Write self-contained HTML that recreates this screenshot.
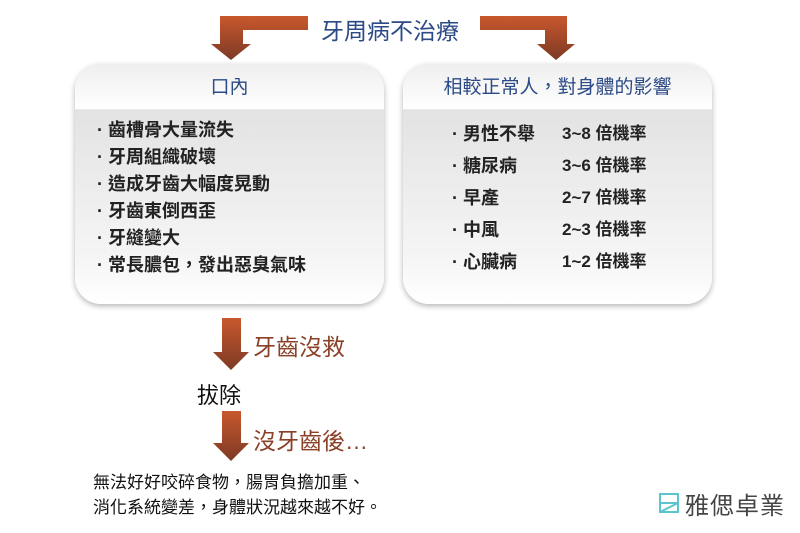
<!DOCTYPE html>
<html><head><meta charset="utf-8"><style>
body{margin:0;width:800px;height:533px;background:#fff;position:relative;overflow:hidden;font-family:"Liberation Sans","Noto Sans CJK TC",sans-serif}
.a{position:absolute;white-space:nowrap}
.box{position:absolute;top:64px;height:240px;width:309px;border-radius:26px;background:linear-gradient(#fff 0,#fff 44px,#e3e3e3 46px,#f6f6f6 200px,#fff 240px);box-shadow:0 2px 6px rgba(0,0,0,.3)}
.hd{position:absolute;top:0;left:0;right:0;height:45px;border-radius:26px 26px 0 0;background:linear-gradient(#eee,#fff);text-align:center;line-height:48px;color:#2c4a86;font-size:19px}
.li{position:absolute;font-size:18px;font-weight:bold;color:#222}
.dk{color:#8a4128;font-size:23px}
</style></head><body>
<svg class="a" style="left:0;top:0" width="800" height="533">
<defs><linearGradient id="g" x1="0" y1="0" x2="0" y2="1"><stop offset="0" stop-color="#c8582d"/><stop offset="1" stop-color="#7d3a25"/></linearGradient></defs>
<path d="M308 16V30H243V44H251L231 60L211 44H220V16Z" fill="url(#g)"/>
<path d="M480 16V30H545V44H537L556 60L575 44H567V16Z" fill="url(#g)"/>
<path d="M222 318H241V352H249L231 370L213 352H222Z" fill="url(#g)"/>
<path d="M222 411H241V443H249L231 461L213 443H222Z" fill="url(#g)"/>
</svg>
<div class="a" style="left:321px;top:12px;font-size:23px;color:#2c4a86">牙周病不治療</div>
<div class="box" style="left:75px"><div class="hd">口內</div></div>
<div class="box" style="left:403px"><div class="hd">相較正常人，對身體的影響</div></div>
<div class="li" style="left:97px;top:117px;line-height:27px">· 齒槽骨大量流失<br>· 牙周組織破壞<br>· 造成牙齒大幅度晃動<br>· 牙齒東倒西歪<br>· 牙縫變大<br>· 常長膿包，發出惡臭氣味</div>
<div class="li" style="left:452px;top:118px;line-height:32px">· 男性不舉<br>· 糖尿病<br>· 早產<br>· 中風<br>· 心臟病</div>
<div class="li" style="left:562px;top:118px;line-height:32px;font-size:17px">3~8 倍機率<br>3~6 倍機率<br>2~7 倍機率<br>2~3 倍機率<br>1~2 倍機率</div>
<div class="a dk" style="left:253px;top:328px">牙齒沒救</div>
<div class="a" style="left:197px;top:378px;font-size:22px;color:#111">拔除</div>
<div class="a dk" style="left:253px;top:422px">沒牙齒後…</div>
<div class="a" style="left:93px;top:470px;font-size:17px;line-height:25px;color:#111">無法好好咬碎食物，腸胃負擔加重、<br>消化系統變差，身體狀況越來越不好。</div>
<svg class="a" style="left:658px;top:492px" width="22" height="22"><path d="M2 2H20V20H2ZM2 11H20M2 20L20 11" fill="none" stroke="#5bc4cf" stroke-width="2"/></svg>
<div class="a" style="left:685px;top:486px;font-size:24px;color:#444;letter-spacing:1px">雅偲卓業</div>
</body></html>
